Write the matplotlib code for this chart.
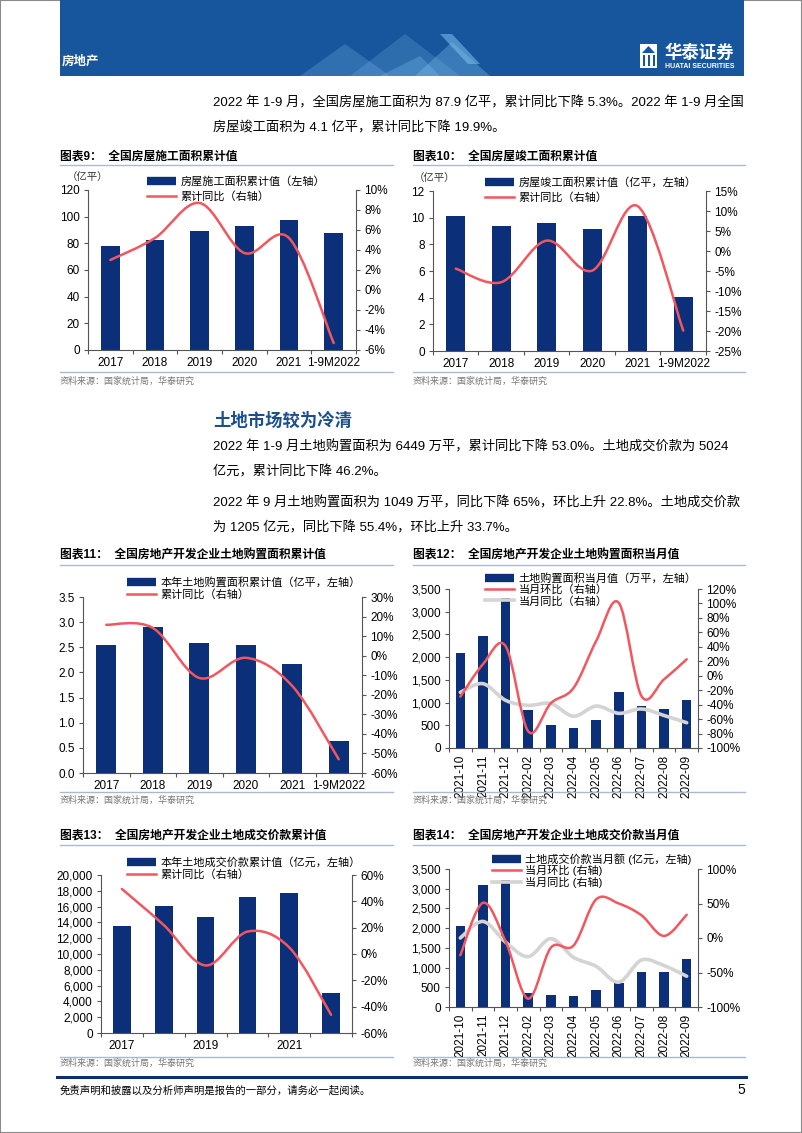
import numpy as np
import matplotlib
matplotlib.use("Agg")
import matplotlib.pyplot as plt
from matplotlib.path import Path
from matplotlib.patches import PathPatch, Rectangle, Polygon
from matplotlib.lines import Line2D
from matplotlib.ticker import FuncFormatter, MultipleLocator, FixedLocator

plt.rcParams['font.family'] = ['Liberation Sans', 'Noto Sans CJK SC']
plt.rcParams['axes.unicode_minus'] = False

W, H = 802, 1133
NAVY = '#0b2f78'
RED = '#f2565e'
GREY = '#d4d4d4'
BANNER = '#17569c'
RULE = '#a9b9cf'

# ---- data read from the page ----
years = ['2017', '2018', '2019', '2020', '2021', '1-9M2022']
constr_area = [78.1, 82.2, 89.4, 92.7, 97.5, 87.9]
constr_yoy = [3.0, 5.2, 8.7, 3.7, 5.2, -5.3]

compl_area = [10.1, 9.36, 9.6, 9.12, 10.1, 4.06]
compl_yoy = [-4.4, -7.8, 2.6, -4.9, 11.2, -19.9]

land_area = [2.55, 2.91, 2.58, 2.55, 2.16, 0.64]
land_area_yoy = [15.8, 14.2, -11.4, -1.1, -15.5, -53.0]

months = ['2021-10', '2021-11', '2021-12', '2022-02', '2022-03', '2022-04',
          '2022-05', '2022-06', '2022-07', '2022-08', '2022-09']
land_area_m = [2090, 2465, 3300, 842, 512, 431, 622, 1239, 923, 857, 1049]
land_area_mom = [-29, 16, 41, -77, -38, -17, 48, 101, -28, -5, 22.8]
land_area_m_yoy = [-23, -11, -34, -41, -38.5, -56, -42, -52, -46, -55, -65]

land_price = [13600, 16040, 14650, 17220, 17730, 5024]
land_price_yoy = [49.4, 22, -8.7, 17, 5, -46.2]

land_price_m = [2044, 3096, 3230, 363, 295, 278, 421, 610, 877, 900, 1205]
land_price_mom = [-25, 51, -5, -88, -14, -11, 56, 50, 33, 3, 33.7]
land_price_m_yoy = [0, 24, -6, -27, -1, -28, -41, -64, -32, -40, -55.4]

fig = plt.figure(figsize=(W / 100, H / 100), dpi=100)


def px_rect(left, top, right, bottom):
    return [left / W, 1 - bottom / H, (right - left) / W, (bottom - top) / H]


def ftext(x, y, s, **kw):
    kw.setdefault('va', 'center')
    fig.text(x / W, 1 - y / H, s, **kw)


def hline(x1, x2, y, color, lw):
    fig.add_artist(Line2D([x1 / W, x2 / W], [1 - y / H, 1 - y / H],
                          transform=fig.transFigure, color=color, lw=lw))


def smooth_path(ys, t=1 / 6):
    # smoothed line through the points, like the office chart "smooth line"
    pts = np.column_stack([np.arange(len(ys)), np.asarray(ys, float)])
    verts = [pts[0]]
    codes = [Path.MOVETO]
    n = len(pts)
    for i in range(n - 1):
        p0 = pts[i - 1] if i > 0 else pts[i]
        p1, p2 = pts[i], pts[i + 1]
        p3 = pts[i + 2] if i + 2 < n else p2
        verts += [p1 + (p2 - p0) * t, p2 - (p3 - p1) * t, p2]
        codes += [Path.CURVE4] * 3
    return Path(verts, codes)


def chart(rect, cats, bars, lines, ylim_l, step_l, ylim_r, step_r,
          fmt_l, labels, leg_xy, rotate=False, tick_every=1, unit=None,
          spacing=0.15):
    ax = fig.add_axes(px_rect(*rect))
    x = np.arange(len(cats))
    ax.bar(x, bars, width=0.42, color=NAVY, zorder=2)
    ax.set_xlim(-0.5, len(cats) - 0.5)
    ax.set_ylim(*ylim_l)
    ax.yaxis.set_major_locator(MultipleLocator(step_l))
    ax.yaxis.set_major_formatter(FuncFormatter(fmt_l))
    ax2 = ax.twinx()
    ax2.set_ylim(*ylim_r)
    ax2.yaxis.set_major_locator(MultipleLocator(step_r))
    ax2.yaxis.set_major_formatter(FuncFormatter(lambda v, p: f'{v:.0f}%'))
    handles = [Line2D([], [], color=NAVY, lw=6, solid_capstyle='butt')]
    # lines are given in legend order; later ones are drawn underneath
    for k, (ys, col, lw) in enumerate(lines):
        ax2.add_patch(PathPatch(smooth_path(ys), facecolor='none',
                                edgecolor=col, lw=lw, zorder=4 - k,
                                capstyle='round'))
        handles.append(Line2D([], [], color=col, lw=lw))
    for a in (ax, ax2):
        a.spines['top'].set_visible(False)
        for s in ('left', 'right', 'bottom'):
            a.spines[s].set_color('#555555')
            a.spines[s].set_linewidth(0.8)
        a.tick_params(axis='y', labelsize=8.5, length=3, width=0.8,
                      color='#555555', pad=3)
    ax.spines['right'].set_visible(False)
    ax2.spines['left'].set_visible(False)
    ax2.spines['bottom'].set_visible(False)
    ax.set_xticks(x[::tick_every])
    ax.set_xticklabels(cats[::tick_every], rotation=90 if rotate else 0,
                       fontsize=8.5)
    ax.xaxis.set_minor_locator(FixedLocator(np.arange(-0.5, len(cats), 1)))
    ax.tick_params(axis='x', which='major', length=0, pad=5)
    ax.tick_params(axis='x', which='minor', length=3, width=0.8,
                   color='#555555')
    ax2.legend(handles, labels, loc='upper left',
               bbox_to_anchor=(leg_xy[0] / W, 1 - leg_xy[1] / H),
               bbox_transform=fig.transFigure, frameon=False, fontsize=8,
               handlelength=2.6, handletextpad=0.4, labelspacing=spacing,
               borderpad=0, borderaxespad=0)
    if unit:
        ftext(unit[0], unit[1], unit[2], fontsize=7.5, color='#333333')
    return ax, ax2


def frame(x1, x2, y_title, y_rule, y_src_rule, y_src, title):
    ftext(x1, y_title, title, fontsize=8.5, fontweight='bold')
    hline(x1, x2, y_rule, RULE, 1.0)
    hline(x1, x2, y_src_rule, RULE, 1.0)
    ftext(x1, y_src, '资料来源：国家统计局，华泰研究', fontsize=6.5,
          color='#777777')


# ---- page border, banner, header ----
fig.add_artist(Rectangle((0, 0), 1, 1, transform=fig.transFigure,
                         fill=False, ec='#8a8a8a', lw=1.5))
fig.add_artist(Rectangle((60 / W, 1 - 76 / H), 684 / W, 76 / H,
                         transform=fig.transFigure, color=BANNER, lw=0))
for tri, alpha in [([(300, 76), (345, 44), (390, 76)], 0.25),
                   ([(350, 76), (405, 34), (460, 76)], 0.22),
                   ([(415, 76), (452, 42), (490, 76)], 0.35),
                   ([(440, 34), (452, 34), (480, 64), (468, 64)], 0.55),
                   ([(380, 76), (420, 56), (440, 76)], 0.3)]:
    fig.add_artist(Polygon([(a / W, 1 - b / H) for a, b in tri],
                           transform=fig.transFigure, color='#7fc0ee',
                           alpha=alpha, lw=0))
ftext(62, 62, '房地产', fontsize=9, color='white', fontweight='bold')
fig.add_artist(Rectangle((640 / W, 1 - 68 / H), 17 / W, 24 / H,
                         transform=fig.transFigure, color='white', lw=0))
for bx in (643, 648, 653):
    fig.add_artist(Rectangle((bx / W, 1 - 66 / H), 2 / W, 11 / H,
                             transform=fig.transFigure, color=BANNER, lw=0))
fig.add_artist(Polygon([(642 / W, 1 - 53 / H), (648.5 / W, 1 - 46 / H),
                        (655 / W, 1 - 53 / H)], transform=fig.transFigure,
                       color=BANNER, lw=0))
ftext(664, 52, '华泰证券', fontsize=12.5, color='white', fontweight='bold')
ftext(665, 67, 'HUATAI SECURITIES', fontsize=5, color='white',
      fontweight='bold')

BODY = 9.5
ftext(213, 103, '2022 年 1-9 月，全国房屋施工面积为 87.9 亿平，累计同比下降 5.3%。'
      '2022 年 1-9 月全国', fontsize=BODY)
ftext(213, 128, '房屋竣工面积为 4.1 亿平，累计同比下降 19.9%。', fontsize=BODY)

# ---- charts 9 and 10 ----
frame(60, 393, 157, 165, 372, 381, '图表9：  全国房屋施工面积累计值')
chart((88, 190, 356, 350), years, constr_area, [(constr_yoy, RED, 1.8)],
      (0, 120), 20, (-6, 10), 2, lambda v, p: f'{v:.0f}',
      ['房屋施工面积累计值（左轴）', '累计同比（右轴）'], (147, 176),
      unit=(67, 177, '（亿平）'), spacing=0.4)

frame(413, 745, 157, 165, 372, 381, '图表10：  全国房屋竣工面积累计值')
chart((433, 191, 706, 351), years, compl_area, [(compl_yoy, RED, 1.8)],
      (0, 12), 2, (-25, 15), 5, lambda v, p: f'{v:.0f}',
      ['房屋竣工面积累计值（亿平，左轴）', '累计同比（右轴）'], (485, 177),
      unit=(414, 178, '（亿平）'), spacing=0.4)

# ---- section text ----
ftext(213, 420, '土地市场较为冷清', fontsize=12.5, color='#1a4f8f',
      fontweight='bold')
ftext(213, 447, '2022 年 1-9 月土地购置面积为 6449 万平，累计同比下降 53.0%。'
      '土地成交价款为 5024', fontsize=BODY)
ftext(213, 472, '亿元，累计同比下降 46.2%。', fontsize=BODY)
ftext(213, 503, '2022 年 9 月土地购置面积为 1049 万平，同比下降 65%，环比上升 22.8%。'
      '土地成交价款', fontsize=BODY)
ftext(213, 528, '为 1205 亿元，同比下降 55.4%，环比上升 33.7%。', fontsize=BODY)

# ---- charts 11 and 12 ----
frame(60, 393, 556, 565, 792, 800, '图表11：  全国房地产开发企业土地购置面积累计值')
chart((83, 597, 362, 773), years, land_area, [(land_area_yoy, RED, 1.8)],
      (0, 3.5), 0.5, (-60, 30), 10, lambda v, p: f'{v:.1f}',
      ['本年土地购置面积累计值（亿平，左轴）', '累计同比（右轴）'], (127, 577))

frame(413, 745, 556, 565, 792, 800, '图表12：  全国房地产开发企业土地购置面积当月值')
chart((449, 589, 698, 748), months, land_area_m,
      [(land_area_mom, RED, 1.8), (land_area_m_yoy, GREY, 2.6)],
      (0, 3500), 500, (-100, 120), 20, lambda v, p: f'{v:,.0f}',
      ['土地购置面积当月值（万平，左轴）', '当月环比（右轴）', '当月同比（右轴）'],
      (485, 573), rotate=True, spacing=0.05)

# ---- charts 13 and 14 ----
frame(60, 393, 836, 845, 1057, 1063, '图表13：  全国房地产开发企业土地成交价款累计值')
chart((101, 875, 352, 1033), years, land_price, [(land_price_yoy, RED, 1.8)],
      (0, 20000), 2000, (-60, 60), 20, lambda v, p: f'{v:,.0f}',
      ['本年土地成交价款累计值（亿元，左轴）', '累计同比（右轴）'], (127, 857),
      tick_every=2)

frame(413, 745, 836, 845, 1057, 1063, '图表14：  全国房地产开发企业土地成交价款当月值')
chart((449, 869, 698, 1007), months, land_price_m,
      [(land_price_mom, RED, 1.8), (land_price_m_yoy, GREY, 2.6)],
      (0, 3500), 500, (-100, 100), 50, lambda v, p: f'{v:,.0f}',
      ['土地成交价款当月额 (亿元，左轴)', '当月环比 (右轴)', '当月同比 (右轴)'],
      (492, 853), rotate=True, spacing=0.05)

# ---- footer ----
hline(57, 746, 1077, '#0d2f6e', 2.2)
ftext(60, 1090, '免责声明和披露以及分析师声明是报告的一部分，请务必一起阅读。',
      fontsize=7.5, style='italic')
ftext(745, 1090, '5', fontsize=10, ha='right')

fig.savefig('out.png', dpi=100)
